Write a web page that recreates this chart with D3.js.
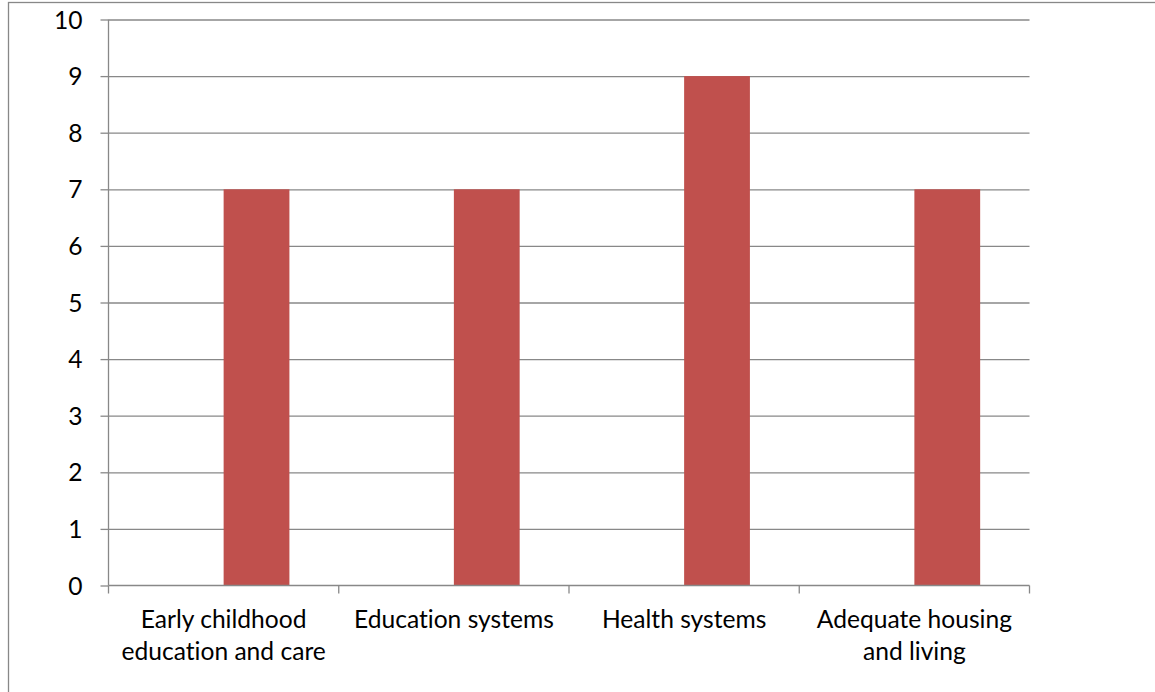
<!DOCTYPE html>
<html>
<head>
<meta charset="utf-8">
<script src="https://cdn.jsdelivr.net/npm/d3@7"></script>
<style>
  html, body { margin: 0; padding: 0; background: #fff; }
  svg { display: block; }
  text { font-family: Lato, "Open Sans", sans-serif; fill: #000; font-variant-ligatures: none; }
</style>
</head>
<body>
<svg id="chart" width="1155" height="692"></svg>
<script>
// Categories and their wrapped axis labels
const categories = ["Early childhood education and care", "Education systems", "Health systems", "Adequate housing and living"];
const categoryLabels = [["Early childhood", "education and care"], ["Education systems"], ["Health systems"], ["Adequate housing", "and living"]];
// Two series slots per category; only the second one carries values
const seriesNames = ["Series 1", "Series 2"];
const seriesValues = [7, 7, 9, 7];
const yTicks = [0, 1, 2, 3, 4, 5, 6, 7, 8, 9, 10];

const svg = d3.select("#chart");
const W = 1155, H = 692;
const plot = { left: 108.5, right: 1029.5, top: 19.5, bottom: 585.5 };
const gridColor = "#888888";
const barColor = "#C0504D";
const fontSize = 24.6;

// Outer chart frame (extends past the visible window on right and bottom)
svg.append("rect")
  .attr("x", 8.5).attr("y", 2.5)
  .attr("width", W + 20).attr("height", H + 20)
  .attr("fill", "none").attr("stroke", gridColor).attr("stroke-width", 1.3);

const x0 = d3.scaleBand().domain(categories).range([plot.left, plot.right]).paddingInner(0).paddingOuter(0);
const x1 = d3.scaleBand().domain(seriesNames).range([0, x0.bandwidth()]).paddingInner(0).paddingOuter(0.75);
const y = d3.scaleLinear().domain([0, 10]).range([plot.bottom, plot.top]);

// Horizontal gridlines with left tick marks
const yAxis = d3.axisLeft(y).tickValues(yTicks).tickSize(8).tickFormat(d3.format("d"));
const gy = svg.append("g").attr("transform", `translate(${plot.left},0)`).call(yAxis);
gy.select(".domain").remove();
gy.selectAll(".tick line").attr("stroke", gridColor).attr("stroke-width", 1.3);
gy.selectAll(".tick text")
  .attr("x", -26).attr("dy", "0.35em")
  .style("font-size", fontSize + "px").style("font-family", "Lato, 'Open Sans', sans-serif").attr("fill", "#000");
gy.selectAll(".tick").filter(d => d > 0).append("line")
  .attr("x1", 0).attr("x2", plot.right - plot.left)
  .attr("stroke", gridColor).attr("stroke-width", 1.3);

// Bars
svg.append("g").selectAll("rect")
  .data(categories.map((c, i) => ({ c, v: seriesValues[i] })))
  .join("rect")
  .attr("x", d => x0(d.c) + x1(seriesNames[1]))
  .attr("width", x1.bandwidth())
  .attr("y", d => y(d.v))
  .attr("height", d => y(0) - y(d.v))
  .attr("fill", barColor);

// Vertical axis line
svg.append("line")
  .attr("x1", plot.left).attr("x2", plot.left)
  .attr("y1", plot.top).attr("y2", plot.bottom)
  .attr("stroke", gridColor).attr("stroke-width", 1.3);

// Category axis line with boundary ticks
svg.append("line")
  .attr("x1", plot.left).attr("x2", plot.right)
  .attr("y1", plot.bottom).attr("y2", plot.bottom)
  .attr("stroke", gridColor).attr("stroke-width", 1.3);
const boundaries = categories.map(c => x0(c)).concat([x0.range()[1]]);
svg.append("g").selectAll("line")
  .data(boundaries)
  .join("line")
  .attr("x1", d => d).attr("x2", d => d)
  .attr("y1", plot.bottom).attr("y2", plot.bottom + 8)
  .attr("stroke", gridColor).attr("stroke-width", 1.3);

// Category labels
const lbl = svg.append("g").selectAll("text")
  .data(categories.map((c, i) => ({ c, lines: categoryLabels[i] })))
  .join("text")
  .attr("text-anchor", "middle")
  .style("font-size", fontSize + "px")
  .attr("x", d => x0(d.c) + x0.bandwidth() / 2)
  .attr("y", 628);
lbl.selectAll("tspan")
  .data(d => d.lines.map(l => ({ l, x: x0(d.c) + x0.bandwidth() / 2 })))
  .join("tspan")
  .attr("x", d => d.x)
  .attr("dy", (d, i) => i === 0 ? 0 : 32)
  .text(d => d.l);
</script>
</body>
</html>
